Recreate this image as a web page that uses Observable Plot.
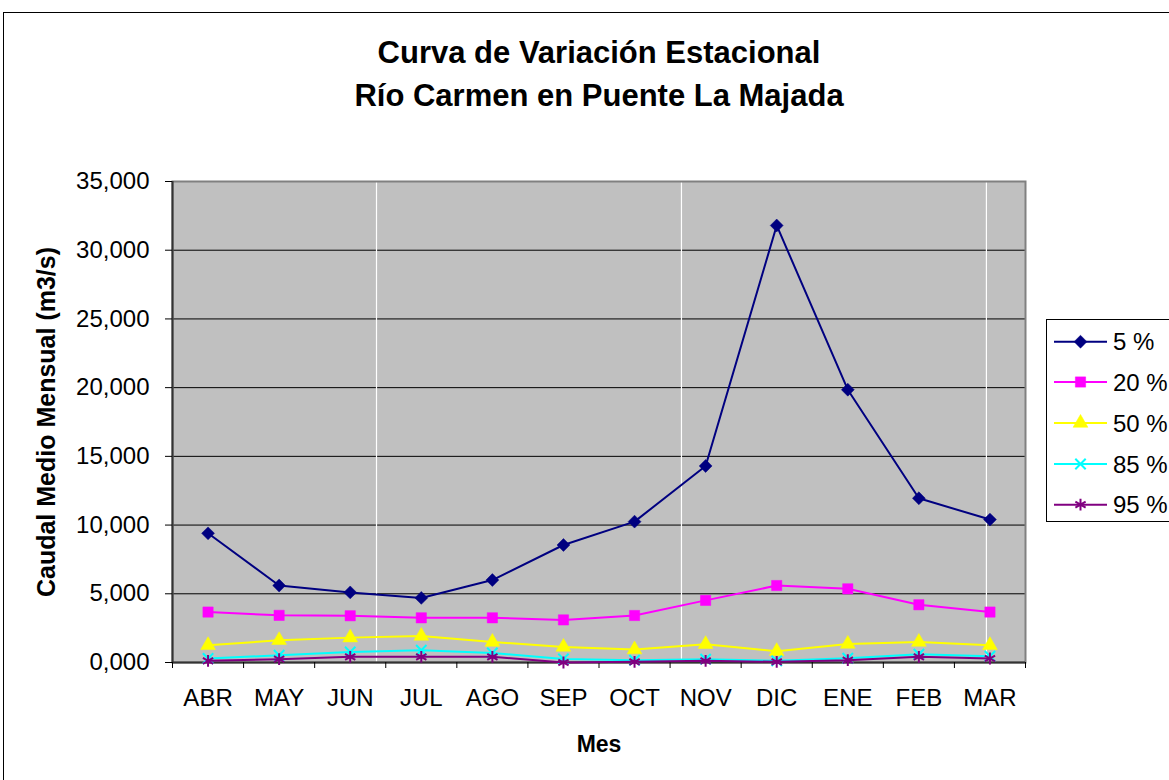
<!DOCTYPE html>
<html><head><meta charset="utf-8">
<script src="https://cdn.jsdelivr.net/npm/d3@7"></script>
<script src="https://cdn.jsdelivr.net/npm/@observablehq/plot@0.6"></script>
<style>
body{margin:0;background:#fff;}
#wrap{position:relative;width:1169px;height:780px;overflow:hidden;font-family:"Liberation Sans",Arial,sans-serif;background:#fff;}
#chart{position:absolute;left:0;top:0;}
#frame{position:absolute;left:3px;top:12px;width:1300px;height:900px;border:1px solid #000;box-sizing:border-box;pointer-events:none;}
#legend{position:absolute;left:1046px;top:319px;}
</style></head><body>
<div id="wrap"><div id="chart"></div><div id="frame"></div><div id="legend"></div></div>
<script>
// ---- data (m3/s) ----
const months = ["ABR","MAY","JUN","JUL","AGO","SEP","OCT","NOV","DIC","ENE","FEB","MAR"];
const p5  = [9.40, 5.60, 5.10, 4.70, 6.00, 8.55, 10.25, 14.30, 31.80, 19.85, 11.95, 10.40];
const p20 = [3.67, 3.43, 3.40, 3.25, 3.25, 3.10, 3.42, 4.52, 5.60, 5.36, 4.20, 3.67];
const p50 = [1.25, 1.62, 1.81, 1.93, 1.49, 1.13, 0.94, 1.33, 0.82, 1.35, 1.49, 1.25];
const p85 = [0.29, 0.53, 0.77, 0.89, 0.70, 0.26, 0.17, 0.24, 0.12, 0.31, 0.60, 0.46];
const p95 = [0.12, 0.24, 0.41, 0.41, 0.41, 0.00, 0.05, 0.12, 0.05, 0.17, 0.41, 0.29];
const seriesNames = ["5 %", "20 %", "50 %", "85 %", "95 %"];
const seriesValues = [p5, p20, p50, p85, p95];
const seriesColors = ["#000080", "#FF00FF", "#FFFF00", "#00FFFF", "#800080"];
const seriesSymbols = ["diamond2", "square", "triangle", "times", "asterisk"];
const yTicks = [0, 5, 10, 15, 20, 25, 30, 35];
const whiteLines = [2.37, 6.66, 10.95];
const titleLines = ["Curva de Variación Estacional", "Río Carmen en Puente La Majada"];
const yLabel = "Caudal Medio Mensual (m3/s)";
const xLabel = "Mes";

// ---- build ----
const esFmt = d3.formatLocale({decimal: ",", thousands: ".", grouping: [3], currency: ["", ""]}).format(".3f");
const rows = [];
seriesValues.forEach((vals, k) => vals.forEach((v, i) => rows.push({s: seriesNames[k], k, i, v})));
const boundaries = d3.range(months.length + 1).map(d => d - 0.5);
const symbolStyle = [
  {r: 5.8, fill: true}, {r: 5.8, fill: true}, {r: 5.5, fill: true}, {r: 4.8, fill: false}, {r: 5.6, fill: false}
];

const marks = [
  Plot.frame({fill: "#C0C0C0"}),
  Plot.ruleY(yTicks.slice(1, -1), {stroke: "#000", strokeWidth: 1}),
  Plot.ruleX(whiteLines, {stroke: "#fff", strokeWidth: 1.2}),
  Plot.frame({stroke: "#808080", strokeWidth: 2}),
  Plot.ruleX([boundaries[0]], {stroke: "#333", strokeWidth: 2}),
  Plot.ruleY([0], {stroke: "#333", strokeWidth: 2}),
  Plot.axisY({ticks: yTicks, tickSize: 7, tickPadding: 16, tickFormat: esFmt, fontSize: 24, stroke: "#000", label: null}),
  Plot.axisX({ticks: boundaries, tickSize: 6, tickFormat: () => "", stroke: "#000", label: null}),
  Plot.axisX({ticks: d3.range(months.length), tickSize: 0, tickPadding: 26, tickFormat: i => months[i], fontSize: 24, label: null}),
];
seriesNames.forEach((name, k) => {
  const data = rows.filter(d => d.k === k);
  marks.push(Plot.line(data, {x: "i", y: "v", stroke: seriesColors[k], strokeWidth: 2}));
  const st = symbolStyle[k];
  marks.push(Plot.dot(data, {
    x: "i", y: "v", symbol: () => seriesSymbols[k], r: st.r,
    fill: st.fill ? seriesColors[k] : "none",
    stroke: seriesColors[k], strokeWidth: st.fill ? 0.5 : 2
  }));
});
marks.push(
  Plot.text([titleLines.join("\n")], {frameAnchor: "top", dy: -149, fontSize: 31, fontWeight: "bold", lineHeight: 1.39, fill: "#000", textAnchor: "middle"}),
  Plot.text([yLabel], {frameAnchor: "left", dx: -126, rotate: -90, fontSize: 25, fontWeight: "bold", fill: "#000", textAnchor: "middle", lineAnchor: "middle"}),
  Plot.text([xLabel], {frameAnchor: "bottom", dy: 82, fontSize: 23, fontWeight: "bold", fill: "#000", textAnchor: "middle", lineAnchor: "middle"})
);

const chart = Plot.plot({
  width: 1169, height: 780,
  marginLeft: 172, marginRight: 144, marginTop: 181, marginBottom: 118,
  x: {type: "linear", domain: [-0.5, months.length - 0.5], label: null},
  y: {domain: [0, 35], label: null},
  style: {fontFamily: "'Liberation Sans', Arial, sans-serif", fontSize: "24px", color: "#000", background: "transparent", overflow: "visible"},
  marks
});
document.getElementById("chart").appendChild(chart);

// ---- legend ----
const lg = d3.select("#legend").append("svg").attr("width", 130).attr("height", 204)
  .style("overflow", "visible").style("font-family", "'Liberation Sans', Arial, sans-serif");
lg.append("rect").attr("x", 0.5).attr("y", 0.5).attr("width", 200).attr("height", 202)
  .attr("fill", "#fff").attr("stroke", "#000").attr("stroke-width", 1);
const d3sym = {diamond2: d3.symbolDiamond2, square: d3.symbolSquare, triangle: d3.symbolTriangle, times: d3.symbolTimes, asterisk: d3.symbolAsterisk};
const itemY = [22.7, 63, 104, 145, 185.7];
seriesNames.forEach((name, k) => {
  const g = lg.append("g").attr("transform", `translate(0,${itemY[k]})`);
  g.append("line").attr("x1", 8).attr("x2", 61).attr("stroke", seriesColors[k]).attr("stroke-width", 2);
  const st = symbolStyle[k];
  g.append("path").attr("transform", "translate(34.5,0)")
    .attr("d", d3.symbol(d3sym[seriesSymbols[k]], Math.PI * st.r * st.r)())
    .attr("fill", st.fill ? seriesColors[k] : "none")
    .attr("stroke", seriesColors[k]).attr("stroke-width", st.fill ? 0.5 : 2);
  g.append("text").attr("x", 67).attr("dy", "0.36em").attr("font-size", 24).attr("fill", "#000").text(name);
});
</script>
</body></html>
